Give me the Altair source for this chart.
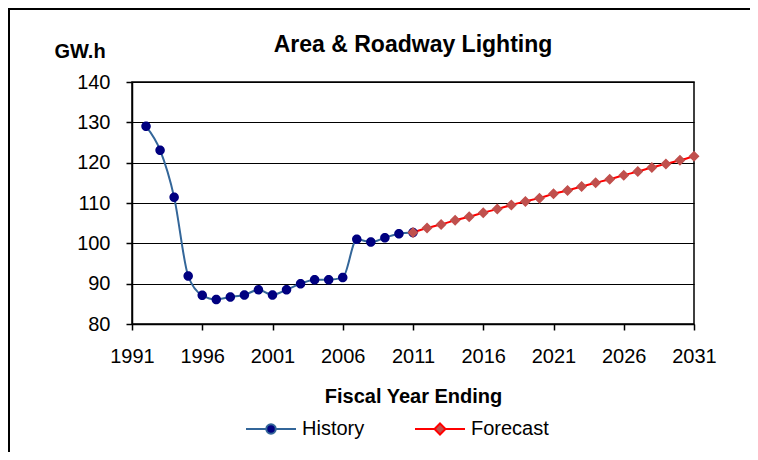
import altair as alt
import pandas as pd

# ---- data ----
hist_years = [1992, 1993, 1994, 1995, 1996, 1997, 1998, 1999, 2000, 2001,
              2002, 2003, 2004, 2005, 2006, 2007, 2008, 2009, 2010, 2011]
hist_vals = [129.0, 123.1, 111.4, 91.9, 87.1, 86.1, 86.7, 87.2, 88.5, 87.2,
             88.5, 90.0, 91.0, 91.0, 91.5, 101.0, 100.3, 101.4, 102.4, 102.7]

fc_years = [2011, 2012, 2013, 2014, 2015, 2016, 2017, 2018, 2019, 2020, 2021,
            2022, 2023, 2024, 2025, 2026, 2027, 2028, 2029, 2030, 2031]
fc_vals = [102.7, 103.8, 104.7, 105.7, 106.6, 107.6, 108.5, 109.5, 110.4, 111.2, 112.3,
           113.1, 114.1, 115.0, 115.9, 116.9, 117.8, 118.8, 119.7, 120.6, 121.6]

series_names = ["History", "Forecast"]
x_ticks = [1991, 1996, 2001, 2006, 2011, 2016, 2021, 2026, 2031]
y_ticks = [80, 90, 100, 110, 120, 130, 140]

line_colors = ["#336699", "#FF0000"]
marker_colors = ["#000080", "#C0504D"]
# symbol paths: invisible-width line extent + marker (scaled by sqrt(size)/2)
circle_path = ("M-1,0H-0.19M0.19,0H1"
               "M0.19,0A0.19,0.19,0,1,1,-0.19,0A0.19,0.19,0,1,1,0.19,0Z")
diamond_path = "M-1,0H-0.22M0.22,0H1M0,-0.22L0.22,0L0,0.22L-0.22,0Z"

rows = [{"year": y, "value": v, "series": "History"} for y, v in zip(hist_years, hist_vals)]
rows += [{"year": y, "value": v, "series": "Forecast"} for y, v in zip(fc_years, fc_vals)]
df = pd.DataFrame(rows)

FONT = "Liberation Sans"

x_enc = alt.X("year:Q",
              scale=alt.Scale(domain=[1991, 2031], nice=False, zero=False),
              axis=alt.Axis(values=x_ticks, format="d", title="Fiscal Year Ending",
                            grid=False, labelFontSize=20, labelPadding=16,
                            tickSize=6, titleFontSize=20, titleFontWeight="bold",
                            titleY=78, titleBaseline="alphabetic", labelFlush=False))
y_enc = alt.Y("value:Q",
              scale=alt.Scale(domain=[80, 140], nice=False, zero=False),
              axis=alt.Axis(values=y_ticks, title="GW.h", titleAngle=0,
                            titleX=-78, titleY=-25, titleAlign="left",
                            titleBaseline="alphabetic", titleFontSize=20,
                            titleFontWeight="bold", labelFontSize=20,
                            labelPadding=16, tickSize=6, grid=True))

legend_common = dict(orient="none", legendX=113, legendY=321, direction="horizontal",
                     title=None, labelFontSize=20, labelOffset=5, columnPadding=46,
                     symbolSize=2500, symbolStrokeWidth=2, labelFont=FONT)

lines = alt.Chart(df).mark_line(strokeWidth=2, interpolate="monotone").encode(
    x=x_enc, y=y_enc,
    stroke=alt.Stroke("series:N", scale=alt.Scale(domain=series_names, range=line_colors),
                      legend=alt.Legend(symbolType="stroke", **legend_common)),
)

points = alt.Chart(df).mark_point(filled=True, size=2500, opacity=1).encode(
    x="year:Q", y="value:Q",
    fill=alt.Fill("series:N", scale=alt.Scale(domain=series_names, range=marker_colors),
                  legend=alt.Legend(**legend_common)),
    shape=alt.Shape("series:N", scale=alt.Scale(domain=series_names,
                                                range=[circle_path, diamond_path]),
                    legend=alt.Legend(**legend_common)),
)

frame = alt.Chart(df).mark_rect(fill=None, stroke="black", strokeWidth=1.5).encode(
    x=alt.value(-123.25), y=alt.value(-73.25), x2=alt.value(900), y2=alt.value(700)
)

chart = alt.layer(frame, lines, points).properties(
    width=562, height=242,
    title=alt.TitleParams("Area & Roadway Lighting", fontSize=23, fontWeight="bold",
                          font=FONT, color="black", anchor="middle", offset=-14, dy=35),
    autosize=alt.AutoSizeParams(type="none"),
    padding={"left": 124, "top": 74, "right": 56, "bottom": 128},
).configure(font=FONT).configure_view(
    stroke="black", strokeWidth=1.5
).configure_axis(
    domainColor="black", domainWidth=1.5, tickColor="black", tickWidth=1.5,
    gridColor="black", gridWidth=1.2, gridOpacity=1,
    labelColor="black", titleColor="black", labelFont=FONT, titleFont=FONT,
).configure_legend(
    labelColor="black", symbolSize=2500
)

chart.save("out.html", embed_options={"renderer": "svg", "actions": False})
